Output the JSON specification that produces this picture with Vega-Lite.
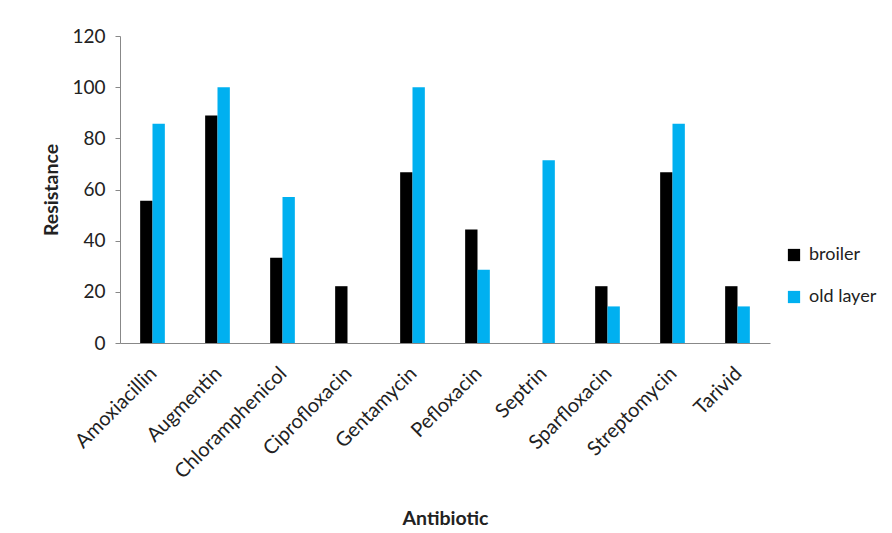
{
  "$schema": "https://vega.github.io/schema/vega-lite/v6.json",
  "autosize": "none",
  "width": 650,
  "height": 307,
  "padding": {"left": 120, "top": 36, "right": 122, "bottom": 190},
  "background": "white",
  "data": {"values": [
    {"Antibiotic": "Amoxiacillin", "group": "broiler", "Resistance": 55.6},
    {"Antibiotic": "Amoxiacillin", "group": "old layer", "Resistance": 85.7},
    {"Antibiotic": "Augmentin", "group": "broiler", "Resistance": 88.9},
    {"Antibiotic": "Augmentin", "group": "old layer", "Resistance": 100},
    {"Antibiotic": "Chloramphenicol", "group": "broiler", "Resistance": 33.3},
    {"Antibiotic": "Chloramphenicol", "group": "old layer", "Resistance": 57.1},
    {"Antibiotic": "Ciprofloxacin", "group": "broiler", "Resistance": 22.2},
    {"Antibiotic": "Ciprofloxacin", "group": "old layer", "Resistance": 0},
    {"Antibiotic": "Gentamycin", "group": "broiler", "Resistance": 66.7},
    {"Antibiotic": "Gentamycin", "group": "old layer", "Resistance": 100},
    {"Antibiotic": "Pefloxacin", "group": "broiler", "Resistance": 44.4},
    {"Antibiotic": "Pefloxacin", "group": "old layer", "Resistance": 28.6},
    {"Antibiotic": "Septrin", "group": "broiler", "Resistance": 0},
    {"Antibiotic": "Septrin", "group": "old layer", "Resistance": 71.4},
    {"Antibiotic": "Sparfloxacin", "group": "broiler", "Resistance": 22.2},
    {"Antibiotic": "Sparfloxacin", "group": "old layer", "Resistance": 14.3},
    {"Antibiotic": "Streptomycin", "group": "broiler", "Resistance": 66.7},
    {"Antibiotic": "Streptomycin", "group": "old layer", "Resistance": 85.7},
    {"Antibiotic": "Tarivid", "group": "broiler", "Resistance": 22.2},
    {"Antibiotic": "Tarivid", "group": "old layer", "Resistance": 14.3}
  ]},
  "mark": {"type": "bar"},
  "encoding": {
    "x": {
      "field": "Antibiotic", "type": "nominal", "sort": null,
      "scale": {"paddingInner": 0.62, "paddingOuter": 0.31},
      "axis": {
        "title": "Antibiotic", "labelAngle": -45, "labelFont": "Lato", "labelFontSize": 20,
        "labelColor": "#222", "ticks": false, "domainColor": "#888", "labelPadding": 20,
        "labelOffset": -6,
        "titleFont": "Lato", "titleFontSize": 19.5, "titleFontWeight": "bold", "titleColor": "#222",
        "titleY": 166
      }
    },
    "xOffset": {"field": "group", "type": "nominal"},
    "y": {
      "field": "Resistance", "type": "quantitative",
      "scale": {"domain": [0, 120]},
      "axis": {
        "values": [0, 20, 40, 60, 80, 100, 120], "grid": false, "domainColor": "#888",
        "tickColor": "#888", "tickSize": 5, "labelFont": "Lato", "labelFontSize": 19,
        "labelColor": "#222", "labelPadding": 10,
        "title": "Resistance", "titleFont": "Lato", "titleFontSize": 19.5, "titleFontWeight": "bold",
        "titleColor": "#222", "titlePadding": 10
      }
    },
    "color": {
      "field": "group", "type": "nominal",
      "scale": {"domain": ["broiler", "old layer"], "range": ["#000000", "#00B0F0"]},
      "legend": {
        "title": null, "orient": "none", "legendX": 665, "legendY": 210,
        "symbolType": "square", "symbolSize": 150, "symbolStrokeWidth": 0,
        "labelFont": "Lato", "labelFontSize": 18, "labelColor": "#222", "rowPadding": 24, "labelOffset": 6
      }
    }
  },
  "config": {"view": {"stroke": null}}
}
